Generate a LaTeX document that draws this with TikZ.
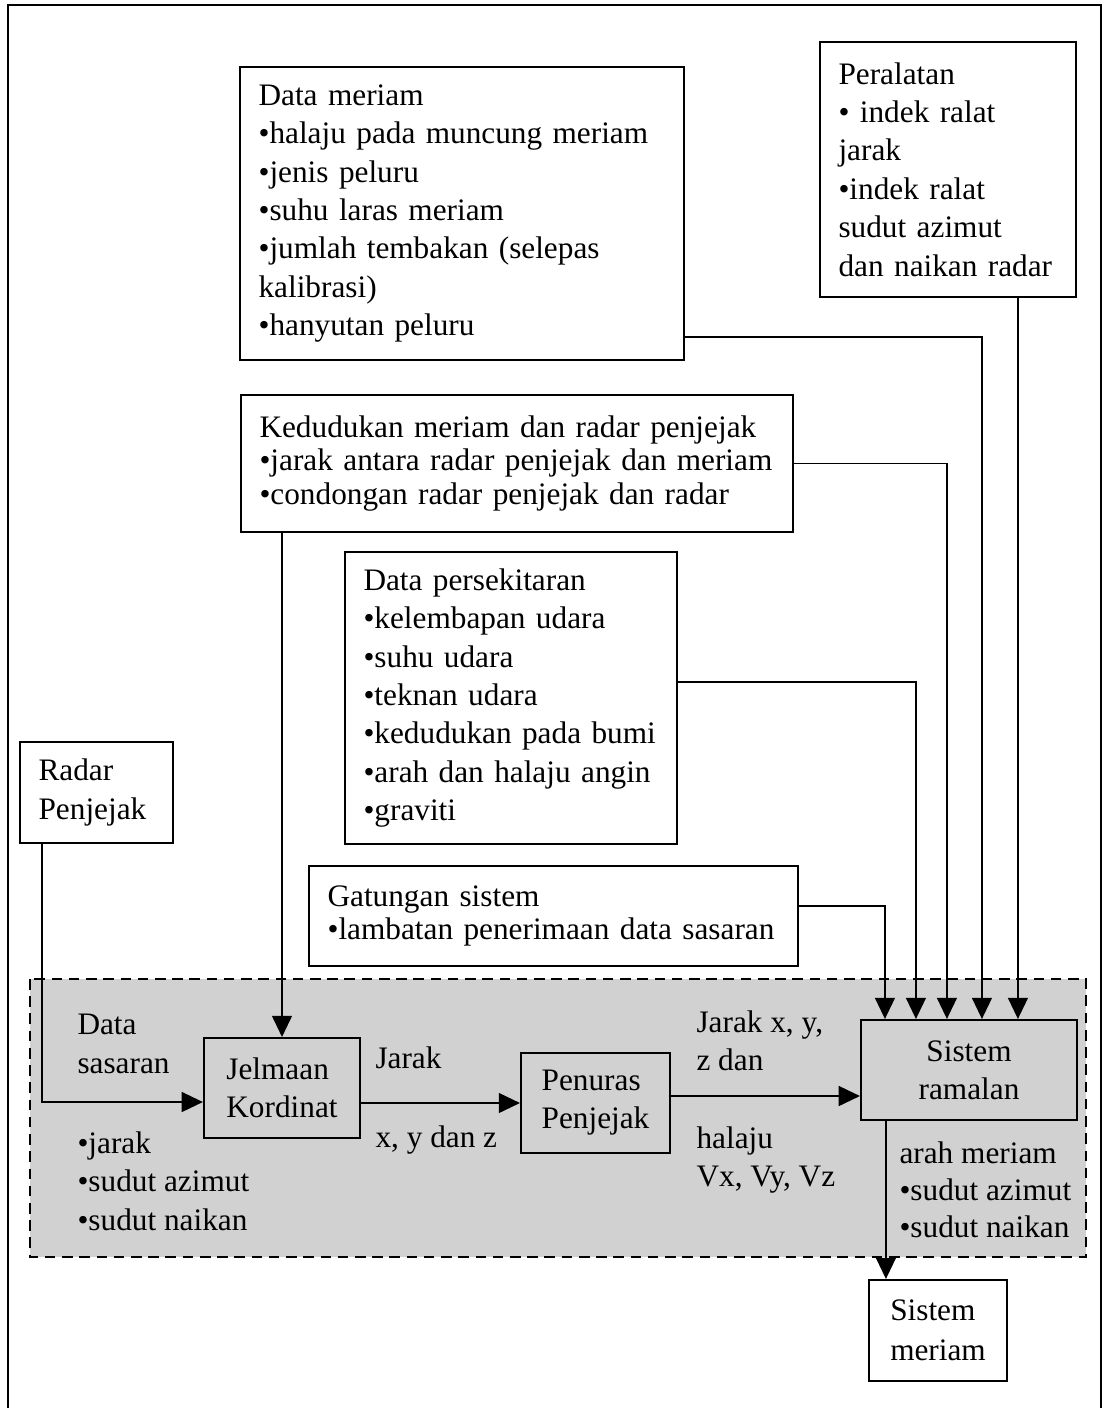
\documentclass[tikz,border=0pt]{standalone}
\usepackage{fontspec}
\setmainfont{Liberation Serif}
\usetikzlibrary{arrows.meta,calc}
\tikzset{
	kotak/.style={draw, line width=0.8pt, align=left, inner xsep=7pt, font=\fontsize{11.8}{14.5}\selectfont},
	blok/.style={draw, line width=0.8pt, align=left, inner sep=0pt, minimum height=37.7pt, font=\fontsize{11.8}{14.3}\selectfont},
	tulisan/.style={align=left, inner sep=0pt, anchor=north west, font=\fontsize{11.8}{14.5}\selectfont},
	panah/.style={-{Triangle[length=8pt,width=7.5pt]}, line width=0.7pt},
}
\begin{document}
\begin{tikzpicture}[x=0.3773pt,y=-0.3773pt]
			\useasboundingbox (0,0) rectangle (1103,1408);
			\draw[line width=0.8pt](8,1408)--(8,5)--(1101,5)--(1101,1408);
			\draw[line width=0.8pt, dash pattern=on 4pt off 2.5pt, fill=black!18](30,979) rectangle (1086,1257);
			% kotak data
			\node[kotak, text width=153.5pt, minimum height=110.5pt] (meriam) at (462,213.5) {Data meriam\\
				\mbox{•halaju pada muncung meriam}\\•jenis peluru\\•suhu laras meriam\\\mbox{•jumlah tembakan (selepas}\\kalibrasi)\\•hanyutan peluru};
			\node[kotak, text width=82.6pt, minimum height=96.2pt] (peralatan) at (948,169.5) {Peralatan\\• indek ralat\\jarak\\•indek ralat\\sudut azimut\\\mbox{dan naikan radar}};
			\node[kotak, text width=194.3pt, minimum height=51.7pt, font=\fontsize{11.8}{12.5}\selectfont] (kedudukan) at (517,463.5) {\mbox{Kedudukan meriam dan radar penjejak}\\
				\mbox{•jarak antara radar penjejak dan meriam}\\\mbox{•condongan radar penjejak dan radar}};
			\node[kotak, text width=111.3pt, minimum height=110.2pt] (persekitaran) at (511,698) {Data persekitaran\\•kelembapan udara\\•suhu udara\\
				•teknan udara\\\mbox{•kedudukan pada bumi}\\\mbox{•arah dan halaju angin}\\•graviti};
			\node[kotak, text width=43.7pt, minimum height=38.1pt, font=\fontsize{11.8}{15}\selectfont] (radar) at (96.5,792.5) {Radar\\\mbox{Penjejak}};
			\node[kotak, text width=170.5pt, minimum height=37.7pt, font=\fontsize{11.8}{12.5}\selectfont] (gatungan) at (553.5,916) {Gatungan sistem\\\mbox{•lambatan penerimaan data sasaran}};
			% blok pemprosesan
			\node[blok, minimum width=58.9pt] (jelmaan) at (282,1088) {Jelmaan\\Kordinat};
			\node[blok, minimum width=56.2pt] (penuras) at (595.5,1103) {Penuras\\Penjejak};
			\node[blok, minimum width=81.5pt, align=center] (ramalan) at (969,1070) {Sistem\\ramalan};
			\node[blok, minimum width=52.1pt, minimum height=38.1pt, fill=white, font=\fontsize{11.8}{15}\selectfont] (sistemmeriam) at (938,1330.5) {Sistem\\meriam};
			% label
			\node[tulisan, font=\fontsize{11.8}{15}\selectfont] (sasaran) at (77,1013) {Data\\sasaran};
			\node[tulisan] (ukuran) at (77,1131) {•jarak\\•sudut azimut\\•sudut naikan};
			\node[tulisan] (jarak) at (375,1046) {Jarak};
			\node[tulisan] (xyz) at (375,1125) {x, y dan z};
			\node[tulisan] (jarakxyz) at (696,1010) {Jarak x, y,\\z dan};
			\node[tulisan] (halaju) at (696,1126) {halaju\\Vx, Vy, Vz};
			\node[tulisan, font=\fontsize{11.8}{14}\selectfont] (arah) at (899,1141) {arah meriam\\•sudut azimut\\•sudut naikan};
			% titik masuk
			\coordinate (masuk1) at ($(ramalan.north west)+(25,0)$);
			\coordinate (masuk2) at ($(ramalan.north west)+(56,0)$);
			\coordinate (masuk3) at ($(ramalan.north west)+(87,0)$);
			\coordinate (masuk4) at ($(ramalan.north west)+(122,0)$);
			\coordinate (masuk5) at ($(ramalan.north west)+(158,0)$);
			\coordinate (keluar) at ($(penuras.east)+(0,-7)$);
			\coordinate (turun) at ($(ramalan.south west)+(26,0)$);
			% sambungan
			\draw[panah]($(meriam.south east)+(0,-24)$)-|(masuk4);
			\draw[panah](peralatan.south -| masuk5)--(masuk5);
			\draw[panah](kedudukan.east)-|(masuk3);
			\draw[panah]($(persekitaran.east)+(0,-16)$)-|(masuk2);
			\draw[panah]($(gatungan.east)+(0,-10)$)-|(masuk1);
			\draw[panah](kedudukan.south -| jelmaan.north)--(jelmaan.north);
			\draw[panah]($(radar.south west)+(23,0)$)|-($(jelmaan.west)+(0,14)$);
			\draw[panah](penuras.west -| jelmaan.east)--(penuras.west);
			\draw[panah](keluar)--(keluar -| ramalan.west);
			\draw[panah](turun)--(turun |- sistemmeriam.north);
		\end{tikzpicture}
\end{document}
